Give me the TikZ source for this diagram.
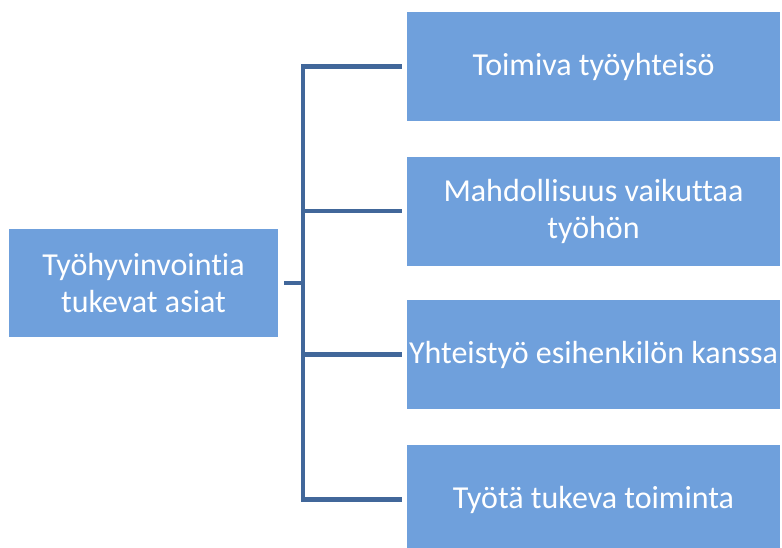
\documentclass[tikz,border=0pt]{standalone}
\usepackage{fontspec}
\setmainfont{Carlito}[Ligatures=CommonOff]
\definecolor{boxblue}{HTML}{6FA0DC}
\definecolor{lineblue}{HTML}{41679A}
\tikzset{
  asia/.style={fill=boxblue,draw=none,text=white,align=center,minimum width=373pt,minimum height=109pt,inner sep=0pt,font=\fontsize{32}{37}\selectfont},
  juuri/.style={asia,minimum width=269pt,minimum height=108pt},
  haara/.style={draw=lineblue,line width=4.5pt,line join=miter}
}
\begin{document}
\begin{tikzpicture}[x=1pt,y=-1pt]
	\clip (0,0) rectangle (782,547);
	\useasboundingbox (0,0) rectangle (782,547);
	\node[juuri] (tuki) at (143.5,283) {Työhyvinvointia\\tukevat asiat};
	\node[asia] (a1) at (593.5,66.5) {Toimiva työyhteisö};
	\node[asia] (a2) at (593.5,211) {Mahdollisuus vaikuttaa\\työhön};
	\node[asia] (a3) at (593.5,354.5) {Yhteistyö esihenkilön kanssa};
	\node[asia] (a4) at (593.5,499.5) {Työtä tukeva toiminta};
	\coordinate (jako) at (303,283);
	\draw[haara] ([xshift=6pt]tuki.east) -- (jako);
	\draw[haara] ([xshift=-5pt]a1.west) -| (jako) |- ([xshift=-5pt]a4.west);
	\draw[haara] (jako |- a2) -- ([xshift=-5pt]a2.west);
	\draw[haara] (jako |- a3) -- ([xshift=-5pt]a3.west);
\end{tikzpicture}
\end{document}
